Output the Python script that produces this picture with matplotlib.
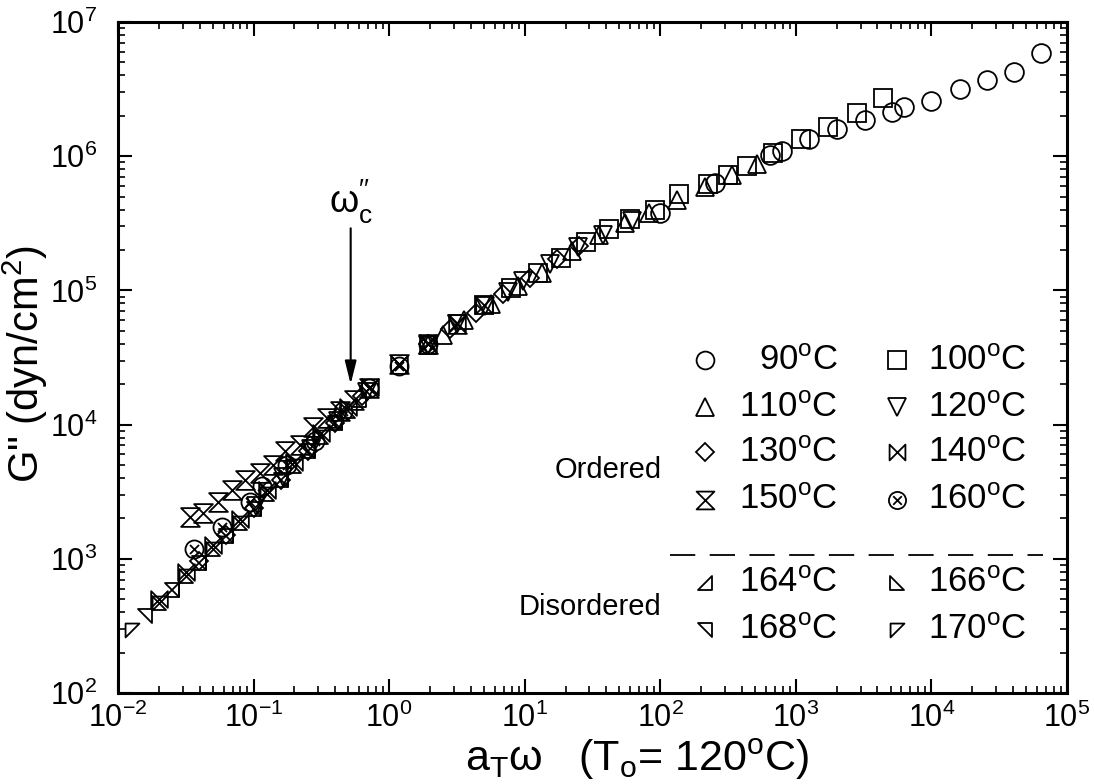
import matplotlib
matplotlib.use('Agg')
import matplotlib.pyplot as plt
from matplotlib.path import Path
from matplotlib.ticker import FixedLocator, NullFormatter, LogFormatterSciNotation
import numpy as np

plt.rcParams['font.family'] = ['Liberation Sans', 'DejaVu Sans']
plt.rcParams['mathtext.fontset'] = 'custom'
plt.rcParams['mathtext.rm'] = 'Liberation Sans'
plt.rcParams['mathtext.it'] = 'Liberation Sans:italic'
plt.rcParams['mathtext.bf'] = 'Liberation Sans:bold'

# ---- data: log10(a_T*omega), log10(G'') ----
lw_90 = [2.00, 2.40, 2.81, 2.90, 3.10, 3.30, 3.51, 3.71, 3.80, 4.00, 4.21, 4.41, 4.61, 4.81]
lg_90 = [5.58, 5.80, 6.01, 6.04, 6.13, 6.20, 6.27, 6.33, 6.37, 6.41, 6.50, 6.57, 6.63, 6.77]

lw_100 = [0.70, 0.90, 1.10, 1.27, 1.45, 1.62, 1.78, 1.96, 2.14, 2.35, 2.50, 2.64, 2.83, 3.04, 3.24, 3.45, 3.64]
lg_100 = [4.89, 5.02, 5.13, 5.24, 5.36, 5.46, 5.53, 5.60, 5.72, 5.79, 5.86, 5.93, 6.02, 6.13, 6.22, 6.32, 6.43]

lw_110 = [0.29, 0.40, 0.55, 0.75, 0.95, 1.13, 1.35, 1.55, 1.74, 1.92, 2.12, 2.33, 2.53, 2.71]
lg_110 = [4.59, 4.67, 4.78, 4.90, 5.03, 5.13, 5.29, 5.41, 5.50, 5.58, 5.67, 5.77, 5.86, 5.94]

lw_120 = [-0.98, -0.78, -0.58, -0.38, -0.16, 0.29, 0.50, 0.71, 0.88, 0.99, 1.19, 1.39, 1.58, 1.79]
lg_120 = [3.39, 3.61, 3.82, 4.03, 4.24, 4.59, 4.75, 4.88, 4.99, 5.07, 5.20, 5.32, 5.41, 5.52]

lw_130 = [-1.40, -1.20, -1.00, -0.80, -0.60, -0.40, -0.20, 0.29, 0.45, 0.64, 0.84, 1.04, 1.24, 1.40]
lg_130 = [2.98, 3.18, 3.38, 3.59, 3.80, 4.01, 4.21, 4.60, 4.71, 4.83, 4.97, 5.09, 5.23, 5.33]

lw_140 = [-1.70, -1.50, -1.30, -1.10, -0.90, -0.70, -0.50, -0.30, -0.14, 0.07, 0.29, 0.50, 0.70]
lg_140 = [2.70, 2.90, 3.10, 3.30, 3.51, 3.72, 3.94, 4.13, 4.28, 4.45, 4.61, 4.76, 4.89]

lw_150 = [-1.47, -1.37, -1.26, -1.16, -1.06, -0.95, -0.86, -0.77, -0.66, -0.56, -0.46, -0.36, -0.26, -0.15, 0.07, 0.29, 0.50]
lg_150 = [3.31, 3.34, 3.42, 3.51, 3.59, 3.64, 3.70, 3.80, 3.85, 3.98, 4.05, 4.10, 4.18, 4.27, 4.45, 4.60, 4.75]

lw_160 = [-1.44, -1.23, -1.03, -0.94, -0.75, -0.55, -0.34, -0.15, 0.07, 0.29]
lg_160 = [3.07, 3.24, 3.42, 3.54, 3.70, 3.88, 4.10, 4.27, 4.44, 4.60]

lw_164 = [-1.60, -1.40, -1.20, -1.00, -0.80, -0.60, -0.40, -0.22]
lg_164 = [2.77, 2.97, 3.17, 3.37, 3.59, 3.80, 4.01, 4.18]
lw_166 = [-1.70, -1.50, -1.30, -1.10, -0.90, -0.70, -0.50, -0.30]
lg_166 = [2.67, 2.87, 3.07, 3.27, 3.48, 3.69, 3.91, 4.10]
lw_168 = [-1.80, -1.60, -1.40, -1.20, -1.00, -0.80, -0.60, -0.40]
lg_168 = [2.57, 2.77, 2.97, 3.17, 3.37, 3.59, 3.80, 4.01]
lw_170 = [-1.90, -1.70, -1.50, -1.30, -1.10, -0.90, -0.70, -0.50]
lg_170 = [2.47, 2.67, 2.87, 3.07, 3.27, 3.48, 3.69, 3.91]

ordered_labels = ['90', '100', '110', '120', '130', '140', '150', '160']
disordered_labels = ['164', '166', '168', '170']

x_decades = [-2, -1, 0, 1, 2, 3, 4, 5]
y_decades = [2, 3, 4, 5, 6, 7]

# ---- custom marker shapes ----
M, L, C = Path.MOVETO, Path.LINETO, Path.CLOSEPOLY
hourglass = Path([(-1, 1), (1, 1), (-1, -1), (1, -1), (-1, 1)], [M, L, L, L, C])
bowtie = Path([(-1, 1), (-1, -1), (1, 1), (1, -1), (-1, 1)], [M, L, L, L, C])
xc = 0.5
otimes = Path.make_compound_path(
    Path.unit_circle(),
    Path([(-xc, -xc), (xc, xc)], [M, L]),
    Path([(-xc, xc), (xc, -xc)], [M, L]))
tri_br = Path([(-1, -1), (1, -1), (1, 1), (-1, -1)], [M, L, L, C])
tri_bl = Path([(-1, 1), (-1, -1), (1, -1), (-1, 1)], [M, L, L, C])
tri_tr = Path([(-1, 1), (1, 1), (1, -1), (-1, 1)], [M, L, L, C])
tri_tl = Path([(-1, 1), (1, 1), (-1, -1), (-1, 1)], [M, L, L, C])

series = [
    (lw_90, lg_90, 'o', 13.5),
    (lw_100, lg_100, 's', 13.0),
    (lw_110, lg_110, '^', 13.5),
    (lw_120, lg_120, 'v', 13.5),
    (lw_130, lg_130, 'D', 9.5),
    (lw_140, lg_140, bowtie, 12.0),
    (lw_150, lg_150, hourglass, 13.5),
    (lw_160, lg_160, otimes, 13.0),
    (lw_164, lg_164, tri_br, 10.0),
    (lw_166, lg_166, tri_bl, 10.0),
    (lw_168, lg_168, tri_tr, 10.0),
    (lw_170, lg_170, tri_tl, 10.0),
]

fig = plt.figure(figsize=(10.94, 7.84), dpi=100)
ax = fig.add_axes([0.1079, 0.1161, 0.8674, 0.8559])

for lw_, lg_, mk, ms in series:
    ax.plot(10 ** np.array(lw_), 10 ** np.array(lg_), linestyle='none', marker=mk,
            markersize=ms, markerfacecolor='none', markeredgecolor='black',
            markeredgewidth=1.3)

ax.set_xscale('log')
ax.set_yscale('log')
ax.set_xlim(1e-2, 1e5)
ax.set_ylim(1e2, 1e7)

xmaj = [10.0 ** d for d in x_decades]
ymaj = [10.0 ** d for d in y_decades]
xmin = [k * 10.0 ** d for d in x_decades[:-1] for k in range(2, 10)]
ymin = [k * 10.0 ** d for d in y_decades[:-1] for k in range(2, 10)]
ax.xaxis.set_major_locator(FixedLocator(xmaj))
ax.yaxis.set_major_locator(FixedLocator(ymaj))
ax.xaxis.set_minor_locator(FixedLocator(xmin))
ax.yaxis.set_minor_locator(FixedLocator(ymin))
ax.xaxis.set_major_formatter(LogFormatterSciNotation())
ax.yaxis.set_major_formatter(LogFormatterSciNotation())
ax.xaxis.set_minor_formatter(NullFormatter())
ax.yaxis.set_minor_formatter(NullFormatter())

ax.tick_params(which='both', direction='in', top=True, right=True)
ax.tick_params(which='major', length=10, width=1.5, labelsize=22)
ax.tick_params(axis='x', which='major', pad=7)
ax.tick_params(axis='y', which='major', pad=15)
ax.tick_params(which='minor', length=5, width=1.2)
for s in ax.spines.values():
    s.set_linewidth(2.2)

ax.set_xlabel('a$_\\mathrm{T}$\u03c9   (T$_\\mathrm{o}$= 120$^\\mathrm{o}$C)', fontsize=31)
ax.xaxis.set_label_coords(0.547, -0.065)
ax.xaxis.label.set_va('top')
ax.set_ylabel('G" (dyn/cm$^\\mathrm{2}$)', fontsize=30)
ax.yaxis.set_label_coords(-0.072, 0.49)

# arrow marking omega_c''
ax.annotate('', xy=(0.52, 2.0e4), xytext=(0.52, 2.9e5),
            arrowprops=dict(arrowstyle='-|>,head_length=1.4,head_width=0.35',
                            mutation_scale=10, lw=1.5, color='black',
                            shrinkA=0, shrinkB=0))
ax.text(0.52, 3.0e5, '\u03c9$_\\mathrm{c}^{\\prime\\prime}$', ha='center', va='bottom', fontsize=27)

# ---- legend drawn manually ----
tr = ax.transAxes
row_y = [0.496, 0.426, 0.359, 0.288]
col_mx = [0.6185, 0.8209]
col_tx = [0.7587, 0.8535]
for i, (lw_, lg_, mk, ms) in enumerate(series[:8]):
    r, c = divmod(i, 2)
    ax.plot([col_mx[c]], [row_y[r]], transform=tr, linestyle='none', marker=mk,
            markersize=ms * 0.95, markerfacecolor='none', markeredgecolor='black',
            markeredgewidth=1.3, clip_on=False)
    ax.text(col_tx[c], row_y[r], ordered_labels[i] + '$^\\mathrm{o}$C', transform=tr,
            ha='right' if c == 0 else 'left', va='center', fontsize=25)
drow_y = [0.164, 0.094]
for i, (lw_, lg_, mk, ms) in enumerate(series[8:]):
    r, c = divmod(i, 2)
    ax.plot([col_mx[c]], [drow_y[r]], transform=tr, linestyle='none', marker=mk,
            markersize=ms, markerfacecolor='none', markeredgecolor='black',
            markeredgewidth=1.3, clip_on=False)
    ax.text(col_tx[c], drow_y[r], disordered_labels[i] + '$^\\mathrm{o}$C', transform=tr,
            ha='right' if c == 0 else 'left', va='center', fontsize=25)
ax.plot([0.5817, 0.9747], [0.2057, 0.2057], transform=tr, color='black', lw=1.3,
        dashes=(14, 8))
ax.text(0.573, 0.332, 'Ordered', transform=tr, ha='right', va='center', fontsize=21)
ax.text(0.573, 0.128, 'Disordered', transform=tr, ha='right', va='center', fontsize=21)

fig.savefig('out.png', dpi=100)
